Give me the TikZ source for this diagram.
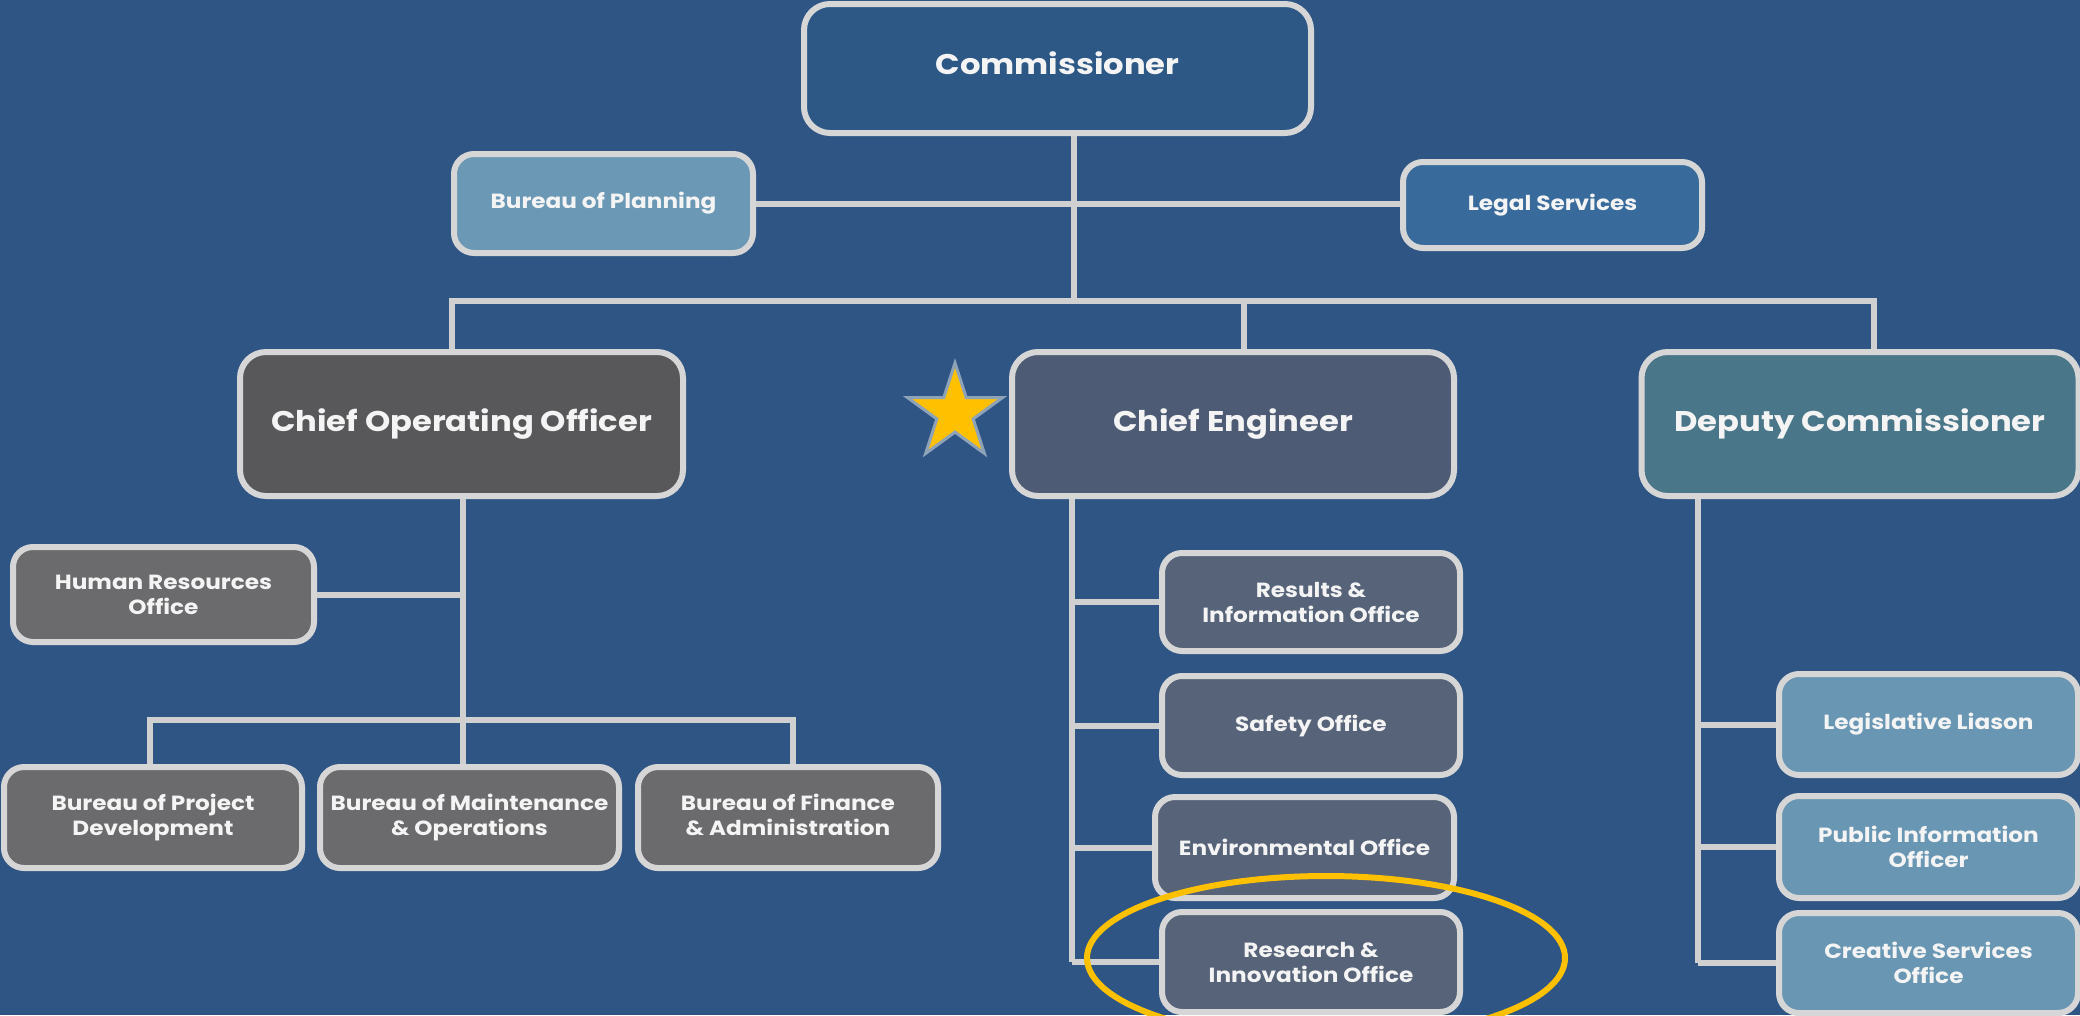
\documentclass[tikz,border=0pt]{standalone}
\usepackage{fontspec}
\setmainfont{Poppins}[FakeStretch=1.13]
\usetikzlibrary{shapes.geometric}
\definecolor{bg}{HTML}{2F5584}
\definecolor{commfill}{HTML}{2D5886}
\definecolor{planfill}{HTML}{6A98B5}
\definecolor{legalfill}{HTML}{386B9B}
\definecolor{coofill}{HTML}{58585B}
\definecolor{cefill}{HTML}{4D5B74}
\definecolor{depfill}{HTML}{4A7689}
\definecolor{grayfill}{HTML}{6B6B6E}
\definecolor{cesub}{HTML}{566378}
\definecolor{depsub}{HTML}{6896B3}
\definecolor{wire}{HTML}{D0D0D0}
\definecolor{rim}{HTML}{D6D6D6}
\definecolor{gold}{HTML}{FFC000}
\definecolor{starrim}{HTML}{8FA3B8}
\definecolor{txt}{HTML}{F4F4F4}
\tikzset{
  box/.style={draw=rim, line width=6pt, rounded corners=20pt, inner sep=0pt,
    align=center, text=txt, font=\bfseries\fontsize{20.5}{25}\selectfont},
  bigbox/.style={box, rounded corners=26pt, font=\bfseries\fontsize{28.5}{33}\selectfont},
  wireline/.style={draw=wire, line width=6pt},
}
\begin{document}
\begin{tikzpicture}[x=1pt,y=-1pt]
\fill[bg] (0,0) rectangle (2080,1015);
\useasboundingbox (0,0) rectangle (2080,1015);
\clip (0,0) rectangle (2080,1015);

% junction coordinates
\coordinate (t1) at (1074,206);
\coordinate (bl) at (452,301);
\coordinate (bm) at (1244,301);
\coordinate (br) at (1874,301);
\coordinate (cx) at (463,720);
\coordinate (ll) at (150,720);
\coordinate (lr) at (793,720);
\coordinate (cex) at (1072,962);
\coordinate (dpx) at (1698,965);

% nodes
\node[bigbox, fill=commfill, minimum width=507pt, minimum height=129pt] (comm) at (1057.5,68.5) {\raisebox{10pt}{Commissioner}};
\node[box, fill=planfill, minimum width=299pt, minimum height=99pt] (bop) at (603.5,203.5) {\raisebox{2pt}{Bureau of Planning}};
\node[box, fill=legalfill, minimum width=299pt, minimum height=86pt] (legal) at (1552.5,205) {Legal Services};
\node[bigbox, fill=coofill, minimum width=443pt, minimum height=144pt] (coo) at (461.5,424) {\raisebox{4pt}{Chief Operating Officer}};
\node[bigbox, fill=cefill, minimum width=442pt, minimum height=144pt] (ce) at (1233,424) {\raisebox{8pt}{Chief Engineer}};
\node[bigbox, fill=depfill, minimum width=437pt, minimum height=144pt] (dep) at (1860,424) {\raisebox{4pt}{Deputy Commissioner}};
\node[box, fill=grayfill, minimum width=301pt, minimum height=95pt] (hr) at (163.5,594.5) {Human Resources\\Office};
\node[box, fill=grayfill, minimum width=298pt, minimum height=101pt] (bpd) at (153,817.5) {\raisebox{3pt}{\begin{tabular}{@{}c@{}}Bureau of Project\\Development\end{tabular}}};
\node[box, fill=grayfill, minimum width=299pt, minimum height=101pt] (bmo) at (469.5,817.5) {Bureau of Maintenance\\\& Operations};
\node[box, fill=grayfill, minimum width=300pt, minimum height=101pt] (bfa) at (788,817.5) {\raisebox{5pt}{\begin{tabular}{@{}c@{}}Bureau of Finance\\\& Administration\end{tabular}}};
\node[box, fill=cesub, minimum width=298pt, minimum height=98pt] (rio) at (1311,602) {Results \&\\Information Office};
\node[box, fill=cesub, minimum width=298pt, minimum height=99pt] (saf) at (1311,725.5) {Safety Office};
\node[box, fill=cesub, minimum width=299pt, minimum height=101pt] (env) at (1304.5,847.5) {Environmental Office};
\node[box, fill=cesub, minimum width=298pt, minimum height=100pt] (rii) at (1311,962) {Research \&\\Innovation Office};
\node[box, fill=depsub, minimum width=299pt, minimum height=101pt] (leg) at (1928.5,724.5) {Legislative Liason};
\node[box, fill=depsub, minimum width=299pt, minimum height=102pt] (pio) at (1928.5,847) {Public Information\\Officer};
\node[box, fill=depsub, minimum width=299pt, minimum height=100pt] (cso) at (1928.5,963) {Creative Services\\Office};

% connectors
\path[wireline] (comm.south -| t1) -- (t1 |- bl);
\path[wireline] (bop.east) -- (bop.east -| legal.west);
\path[wireline] (coo.north -| bl) -- (bl) -- (br) -- (br |- dep.north);
\path[wireline] (bm) -- (bm |- ce.north);
\path[wireline] (coo.south -| cx) -- (cx);
\path[wireline] (hr.east) -- (hr.east -| cx);
\path[wireline] (bpd.north -| ll) -- (ll) -- (lr) -- (lr |- bfa.north);
\path[wireline] (cx) -- (cx |- bmo.north);
\path[wireline] (ce.south -| cex) -- (cex |- rii.west);
\path[wireline] (rio.west -| cex) -- (rio.west);
\path[wireline] (saf.west -| cex) -- (saf.west);
\path[wireline] (env.west -| cex) -- (env.west);
\path[wireline] (rii.west -| cex) -- (rii.west);
\path[wireline] (dep.south -| dpx) -- (dpx |- cso.west);
\path[wireline] (leg.west -| dpx) -- (leg.west);
\path[wireline] (pio.west -| dpx) -- (pio.west);
\path[wireline] (cso.west -| dpx) -- (cso.west);

% star
\node[star, star points=5, star point ratio=2.618, minimum size=100pt, inner sep=0pt,
  fill=gold, draw=starrim, line width=3pt] (star) at (955,413) {};

% highlight ellipse
\draw[gold, line width=6pt] (1326,958) ellipse [x radius=239, y radius=82];
\end{tikzpicture}
\end{document}
